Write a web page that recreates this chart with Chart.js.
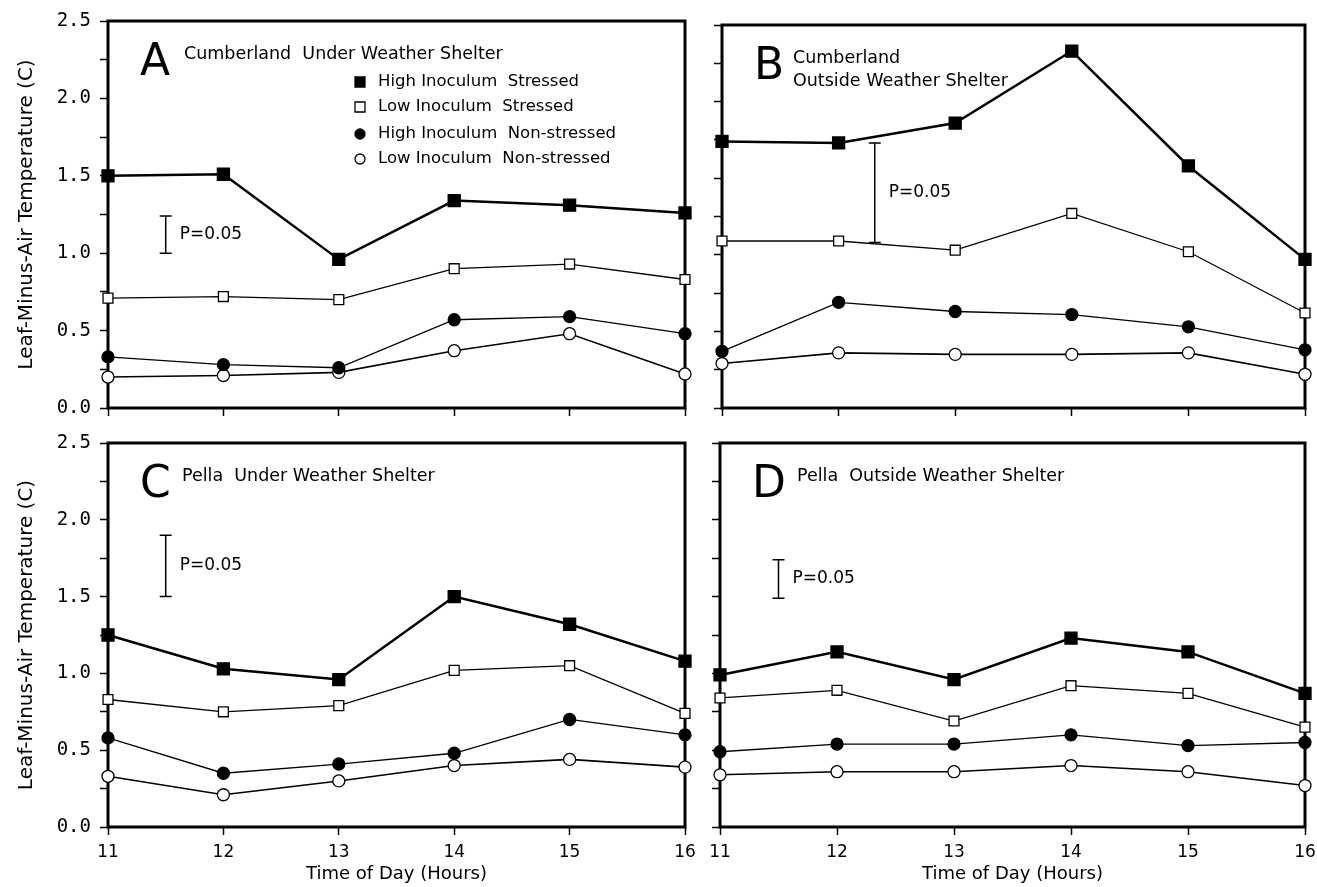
<!DOCTYPE html>
<html>
<head>
<meta charset="utf-8">
<script src="https://cdn.jsdelivr.net/npm/chart.js@4.4.1/dist/chart.umd.min.js"></script>
<style>
  body { margin: 0; background: #fff; }
  #wrap { position: relative; width: 1317px; height: 887px; }
  canvas { position: absolute; }
</style>
</head>
<body>
<div id="wrap">
  <canvas id="panelA" width="700" height="430" style="left:0;top:0"></canvas>
  <canvas id="panelB" width="617" height="430" style="left:700px;top:0"></canvas>
  <canvas id="panelC" width="700" height="457" style="left:0;top:430px"></canvas>
  <canvas id="panelD" width="617" height="457" style="left:700px;top:430px"></canvas>
</div>
<script>
const hours = [11, 12, 13, 14, 15, 16];
const seriesNames = [
  'High Inoculum  Stressed',
  'Low Inoculum  Stressed',
  'High Inoculum  Non-stressed',
  'Low Inoculum  Non-stressed'
];
const yLabelled = [0, 0.5, 1, 1.5, 2, 2.5];

// A - Cumberland under shelter
const aHighStressed = [1.50, 1.51, 0.96, 1.34, 1.31, 1.26];
const aLowStressed  = [0.71, 0.72, 0.70, 0.90, 0.93, 0.83];
const aHighNon      = [0.33, 0.28, 0.26, 0.57, 0.59, 0.48];
const aLowNon       = [0.20, 0.21, 0.23, 0.37, 0.48, 0.22];
// B - Cumberland outside
const bHighStressed = [1.74, 1.73, 1.86, 2.33, 1.58, 0.97];
const bLowStressed  = [1.09, 1.09, 1.03, 1.27, 1.02, 0.62];
const bHighNon      = [0.37, 0.69, 0.63, 0.61, 0.53, 0.38];
const bLowNon       = [0.29, 0.36, 0.35, 0.35, 0.36, 0.22];
// C - Pella under shelter
const cHighStressed = [1.25, 1.03, 0.96, 1.50, 1.32, 1.08];
const cLowStressed  = [0.83, 0.75, 0.79, 1.02, 1.05, 0.74];
const cHighNon      = [0.58, 0.35, 0.41, 0.48, 0.70, 0.60];
const cLowNon       = [0.33, 0.21, 0.30, 0.40, 0.44, 0.39];
// D - Pella outside
const dHighStressed = [0.99, 1.14, 0.96, 1.23, 1.14, 0.87];
const dLowStressed  = [0.84, 0.89, 0.69, 0.92, 0.87, 0.65];
const dHighNon      = [0.49, 0.54, 0.54, 0.60, 0.53, 0.55];
const dLowNon       = [0.34, 0.36, 0.36, 0.40, 0.36, 0.27];

// P=0.05 bars: [hour, low, high]
const aLsd = [11.5, 1.00, 1.24];
const bLsd = [12.31, 1.08, 1.73];
const cLsd = [11.5, 1.50, 1.90];
const dLsd = [11.5, 1.49, 1.74];

const FONT = '"DejaVu Sans", sans-serif';

const seriesStyle = [
  { pointStyle: 'rect', pointRadius: 8.5, pointBackgroundColor: '#000', borderWidth: 2.5 },
  { pointStyle: 'rect', pointRadius: 7, pointBackgroundColor: '#fff', borderWidth: 1.3 },
  { pointStyle: 'circle', pointRadius: 6, pointBackgroundColor: '#000', borderWidth: 1.3 },
  { pointStyle: 'circle', pointRadius: 6, pointBackgroundColor: '#fff', borderWidth: 1.6 }
];

function legendMark(ctx, i, x, y) {
  ctx.lineWidth = 1.3;
  ctx.beginPath();
  if (i < 2) ctx.rect(x - 5, y - 5, 10, 10);
  else ctx.arc(x, y, 5, 0, Math.PI * 2);
  if (i % 2 === 0) { ctx.fill(); } else { ctx.fillStyle = '#fff'; ctx.fill(); ctx.fillStyle = '#000'; }
  ctx.stroke();
}

const panelDecor = {
  id: 'panelDecor',
  beforeDatasetsDraw(chart, args, o) {
    const { ctx, chartArea: a, scales: { x, y } } = chart;
    ctx.save();
    ctx.strokeStyle = '#000';
    ctx.fillStyle = '#000';
    ctx.lineWidth = 3;
    ctx.strokeRect(a.left, a.top, a.right - a.left, a.bottom - a.top);

    // least significant difference bar
    const bx = x.getPixelForValue(o.lsd[0]);
    const yLo = y.getPixelForValue(o.lsd[1]);
    const yHi = y.getPixelForValue(o.lsd[2]);
    ctx.lineWidth = 1.5;
    ctx.beginPath();
    ctx.moveTo(bx, yLo); ctx.lineTo(bx, yHi);
    ctx.moveTo(bx - 6, yLo); ctx.lineTo(bx + 6, yLo);
    ctx.moveTo(bx - 6, yHi); ctx.lineTo(bx + 6, yHi);
    ctx.stroke();
    ctx.font = '17px ' + FONT;
    ctx.textBaseline = 'middle';
    ctx.fillText('P=0.05', bx + 14, (yLo + yHi) / 2);

    // panel letter and title
    ctx.font = '44px ' + FONT;
    ctx.textBaseline = 'alphabetic';
    ctx.fillText(o.letter, a.left + 32, a.top + 54);
    ctx.font = '17.5px ' + FONT;
    ctx.textBaseline = 'middle';
    o.title.forEach((t, i) => ctx.fillText(t, a.left + o.titleX, a.top + 33 + i * 23));

    if (o.legend) {
      ctx.font = '16.5px ' + FONT;
      const rows = [61, 86, 113, 138];
      seriesNames.forEach((name, i) => {
        legendMark(ctx, i, a.left + 252, a.top + rows[i]);
        ctx.fillText(name, a.left + 270, a.top + rows[i]);
      });
    }
    ctx.restore();
  }
};

function makePanel(id, series, cfg) {
  const datasets = series.map((vals, i) => Object.assign({
    label: seriesNames[i],
    data: hours.map((h, j) => ({ x: h, y: vals[j] })),
    borderColor: '#000',
    pointBorderColor: '#000',
    pointBorderWidth: 1.3,
    fill: false,
    tension: 0,
    clip: false
  }, seriesStyle[i]));

  return new Chart(document.getElementById(id), {
    type: 'line',
    data: { datasets },
    options: {
      responsive: false,
      animation: false,
      devicePixelRatio: 1,
      layout: { padding: cfg.pad },
      plugins: {
        legend: { display: false },
        tooltip: { enabled: false },
        panelDecor: cfg
      },
      scales: {
        x: {
          type: 'linear',
          min: 11,
          max: 16,
          afterFit: s => {
            s.height = cfg.xHeight;
            s.paddingLeft = 0; s.paddingRight = 0;
          },
          border: { display: false },
          grid: { drawOnChartArea: false, drawTicks: true, tickLength: 8, tickWidth: 1.5, tickColor: '#000' },
          ticks: {
            stepSize: 1,
            padding: 7,
            color: '#000',
            font: { family: FONT, size: 17 },
            callback: v => cfg.showX ? String(v) : ''
          },
          title: {
            display: cfg.showX,
            text: 'Time of Day (Hours)',
            color: '#000',
            font: { family: FONT, size: 18 },
            padding: { top: 0, bottom: 2 }
          }
        },
        y: {
          type: 'linear',
          min: 0,
          max: 2.5,
          afterFit: s => {
            s.width = cfg.yWidth;
            s.paddingTop = 0; s.paddingBottom = 0;
          },
          border: { display: false },
          grid: { drawOnChartArea: false, drawTicks: true, tickLength: 8, tickWidth: 1.5, tickColor: '#000' },
          ticks: {
            stepSize: 0.25,
            padding: 9,
            color: '#000',
            font: { family: '"DejaVu Sans Mono", monospace', size: 19 },
            callback: v => (cfg.showY && yLabelled.includes(v)) ? v.toFixed(1) : ''
          },
          title: {
            display: cfg.showY,
            text: 'Leaf-Minus-Air Temperature (C)',
            color: '#000',
            font: { family: FONT, size: 20 },
            padding: { top: 15, bottom: 0 }
          }
        }
      }
    },
    plugins: [panelDecor]
  });
}

makePanel('panelA', [aHighStressed, aLowStressed, aHighNon, aLowNon], {
  pad: { left: 0, top: 21, right: 15, bottom: 0 }, yWidth: 108, xHeight: 22,
  showY: true, showX: false, letter: 'A', titleX: 76,
  title: ['Cumberland  Under Weather Shelter'], legend: true, lsd: aLsd
});
makePanel('panelB', [bHighStressed, bLowStressed, bHighNon, bLowNon], {
  pad: { left: 0, top: 25, right: 12, bottom: 0 }, yWidth: 22, xHeight: 22,
  showY: false, showX: false, letter: 'B', titleX: 71,
  title: ['Cumberland', 'Outside Weather Shelter'], legend: false, lsd: bLsd
});
makePanel('panelC', [cHighStressed, cLowStressed, cHighNon, cLowNon], {
  pad: { left: 0, top: 13, right: 15, bottom: 0 }, yWidth: 108, xHeight: 60,
  showY: true, showX: true, letter: 'C', titleX: 74,
  title: ['Pella  Under Weather Shelter'], legend: false, lsd: cLsd
});
makePanel('panelD', [dHighStressed, dLowStressed, dHighNon, dLowNon], {
  pad: { left: 0, top: 13, right: 12, bottom: 0 }, yWidth: 20, xHeight: 60,
  showY: false, showX: true, letter: 'D', titleX: 77,
  title: ['Pella  Outside Weather Shelter'], legend: false, lsd: dLsd
});
</script>
</body>
</html>
